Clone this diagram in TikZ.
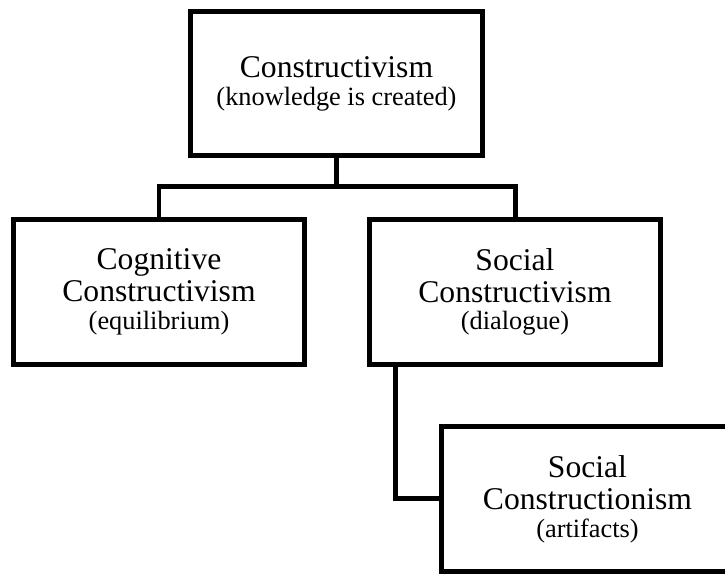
\documentclass[tikz,border=0pt]{standalone}
\usepackage{fontspec}
\setmainfont{Liberation Serif}
\newcommand{\brief}[1]{{\fontsize{15}{15}\selectfont #1}}
\begin{document}
\begin{tikzpicture}[x=0.02cm,y=-0.02cm,line width=0.1cm,
  box/.style={draw,minimum width=5.84cm,minimum height=2.9cm,align=center,
    font=\fontsize{18}{18.2}\selectfont}]
\useasboundingbox (0,0) rectangle (725,574);
\node[box] (creat) at (336.5,83.5) {Constructivism\\[-2.4pt]\brief{(knowledge is created)}};
\node[box] (cog) at (159,292) {Cognitive\\Constructivism\\[-2.4pt]\brief{(equilibrium)}};
\node[box] (soc) at (515,292) {Social\\Constructivism\\[-2.4pt]\brief{(dialogue)}};
\node[box] (cons) at (587.5,499) {Social\\Constructionism\\[-2.4pt]\brief{(artifacts)}};
% tree links
\coordinate (split) at (336.5,187);
\draw (creat.south) -- (split);
\draw (cog.north) |- (split) -| (soc.north);
\draw ([xshift=0.58cm]soc.south west) |- (cons.west);
\end{tikzpicture}
\end{document}
